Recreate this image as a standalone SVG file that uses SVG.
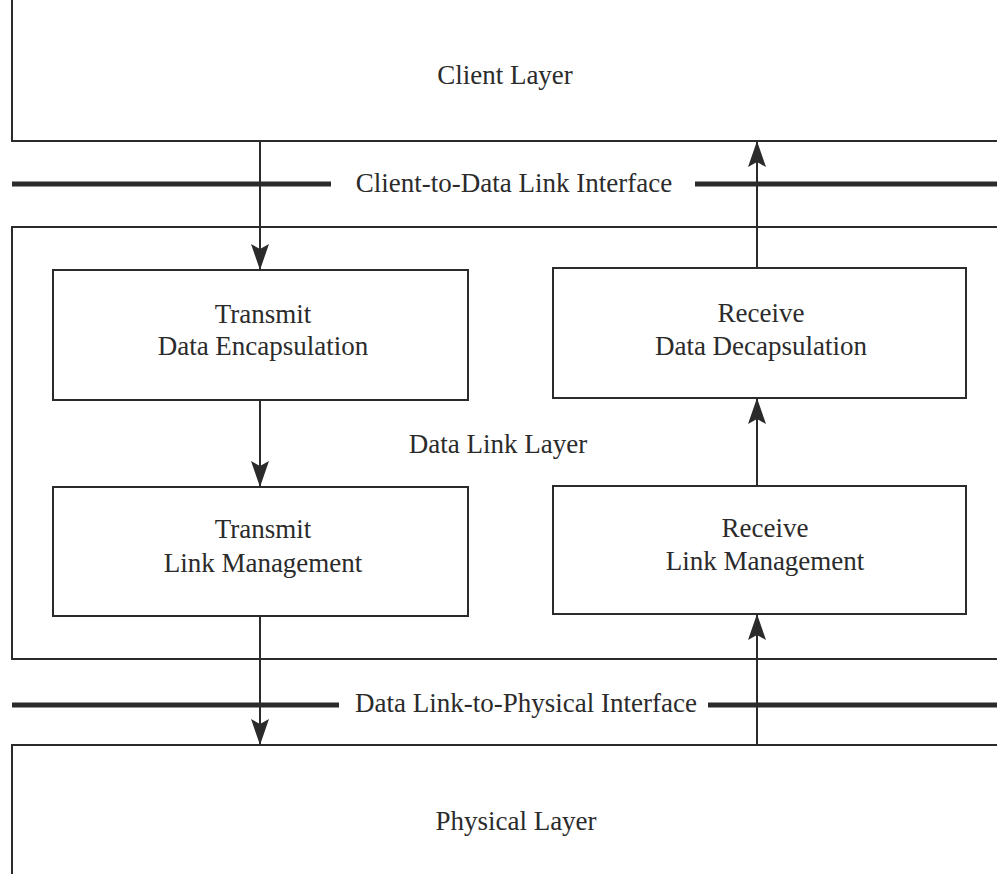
<svg xmlns="http://www.w3.org/2000/svg" width="997" height="874" viewBox="0 0 997 874">
<style>
.ln{fill:none;stroke:#2b2b2b;stroke-width:2}
.iface{fill:none;stroke:#2b2b2b;stroke-width:5}
.box{fill:#fff;stroke:#2b2b2b;stroke-width:2}
.t{font-family:"Liberation Serif","Times New Roman",serif;font-size:27px;fill:#2b2b2b;text-anchor:middle}
.conn{fill:none;stroke:#2b2b2b;stroke-width:2}
</style>
<defs>
<marker id="ah" markerUnits="userSpaceOnUse" markerWidth="28" markerHeight="20" viewBox="-27 -10 28 20" refX="0" refY="0" orient="auto">
<path d="M0,0 L-26,-9 L-21,0 L-26,9 Z" fill="#2b2b2b"/>
</marker>
</defs>
<rect width="997" height="874" fill="#fff"/>
<g id="client-layer">
<path class="ln" d="M12,0 V141 H997"/>
<text class="t" x="505" y="84">Client Layer</text>
</g>
<g id="client-dl-interface">
<path class="iface" d="M12,184 H331 M695,184 H997"/>
<text class="t" x="514" y="192">Client-to-Data Link Interface</text>
</g>
<g id="data-link-layer">
<path class="ln" d="M997,227 H12 V659 H997"/>
<text class="t" x="498" y="453">Data Link Layer</text>
</g>
<g id="transmit-encap">
<rect class="box" x="53" y="270" width="415" height="130"/>
<text class="t" x="263" y="323">Transmit</text>
<text class="t" x="263" y="355">Data Encapsulation</text>
</g>
<g id="receive-decap">
<rect class="box" x="553" y="268" width="413" height="130"/>
<text class="t" x="761" y="322">Receive</text>
<text class="t" x="761" y="355">Data Decapsulation</text>
</g>
<g id="transmit-link-mgmt">
<rect class="box" x="53" y="487" width="415" height="129"/>
<text class="t" x="263" y="538">Transmit</text>
<text class="t" x="263" y="572">Link Management</text>
</g>
<g id="receive-link-mgmt">
<rect class="box" x="553" y="486" width="413" height="128"/>
<text class="t" x="765" y="537">Receive</text>
<text class="t" x="765" y="570">Link Management</text>
</g>
<g id="dl-phys-interface">
<path class="iface" d="M12,705 H339 M708,705 H997"/>
<text class="t" x="526" y="712">Data Link-to-Physical Interface</text>
</g>
<g id="physical-layer">
<path class="ln" d="M12,874 V745 H997"/>
<text class="t" x="516" y="830">Physical Layer</text>
</g>
<g id="connectors">
<line class="conn" x1="260" y1="141" x2="260" y2="270" marker-end="url(#ah)"/>
<line class="conn" x1="260" y1="400" x2="260" y2="487" marker-end="url(#ah)"/>
<line class="conn" x1="260" y1="616" x2="260" y2="745" marker-end="url(#ah)"/>
<line class="conn" x1="757" y1="745" x2="757" y2="614" marker-end="url(#ah)"/>
<line class="conn" x1="757" y1="486" x2="757" y2="398" marker-end="url(#ah)"/>
<line class="conn" x1="757" y1="268" x2="757" y2="141" marker-end="url(#ah)"/>
</g>
</svg>
